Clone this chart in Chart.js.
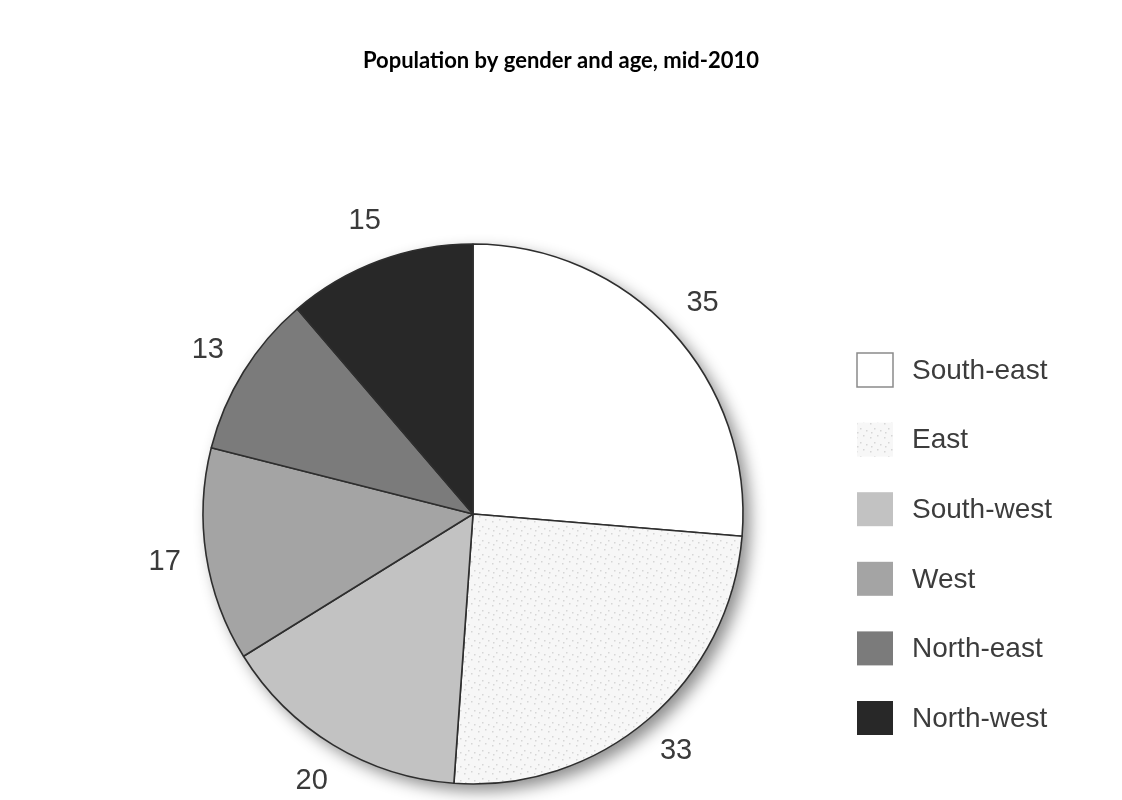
<!DOCTYPE html>
<html>
<head>
<meta charset="utf-8">
<script src="https://cdn.jsdelivr.net/npm/chart.js@4.4.1/dist/chart.umd.min.js"></script>
<style>
  html, body { margin: 0; padding: 0; background: #fff; }
  #wrap { width: 1122px; height: 800px; position: relative; }
</style>
</head>
<body>
<div id="wrap"><canvas id="regionChart"></canvas></div>
<script>
// data
const chartTitle = 'Population by gender and age, mid-2010';
const regions = ['South-east', 'East', 'South-west', 'West', 'North-east', 'North-west'];
const population = [35, 33, 20, 17, 13, 15];

// light dotted fill used for the East slice
function dotPattern() {
  const c = document.createElement('canvas');
  c.width = 14; c.height = 14;
  const g = c.getContext('2d');
  g.fillStyle = '#f7f7f7';
  g.fillRect(0, 0, 14, 14);
  g.fillStyle = '#d6d6d6';
  [[2, 3], [9, 1], [6, 8], [12, 10], [3, 12]].forEach(([x, y]) => g.fillRect(x, y, 1.5, 1.5));
  return g.createPattern(c, 'repeat');
}

const sliceColors = ['#ffffff', dotPattern(), '#c2c2c2', '#a4a4a4', '#7b7b7b', '#282828'];

// title sits centred on the whole page, not over the pie
const pageTitle = {
  id: 'pageTitle',
  afterDraw(chart) {
    const ctx = chart.ctx;
    ctx.save();
    ctx.font = 'bold 22px Lato, "Open Sans", sans-serif';
    ctx.fillStyle = '#000';
    ctx.textAlign = 'center';
    ctx.textBaseline = 'middle';
    ctx.fillText(chartTitle, chart.width / 2, 61);
    ctx.restore();
  }
};

// soft grey shadow round the lower right rim
const pieShadow = {
  id: 'pieShadow',
  beforeDatasetsDraw(chart) {
    const arc = chart.getDatasetMeta(0).data[0];
    if (!arc) return;
    const ctx = chart.ctx;
    ctx.save();
    ctx.shadowColor = 'rgba(0,0,0,0.45)';
    ctx.shadowBlur = 16;
    ctx.shadowOffsetX = 7;
    ctx.shadowOffsetY = 7;
    ctx.fillStyle = '#ffffff';
    ctx.beginPath();
    ctx.arc(arc.x, arc.y, arc.outerRadius, 0, Math.PI * 2);
    ctx.fill();
    ctx.restore();
  }
};

// numbers outside each slice
const sliceValues = {
  id: 'sliceValues',
  afterDatasetsDraw(chart) {
    const ctx = chart.ctx;
    const meta = chart.getDatasetMeta(0);
    ctx.save();
    ctx.font = '29px "Liberation Sans", Arial, sans-serif';
    ctx.fillStyle = '#3a3a3a';
    ctx.textAlign = 'center';
    ctx.textBaseline = 'middle';
    meta.data.forEach((arc, i) => {
      const mid = (arc.startAngle + arc.endAngle) / 2;
      const r = arc.outerRadius + 42;
      ctx.fillText(String(chart.data.datasets[0].data[i]), arc.x + Math.cos(mid) * r, arc.y + Math.sin(mid) * r);
    });
    ctx.restore();
  }
};

// legend column on the right
const sideLegend = {
  id: 'sideLegend',
  afterDraw(chart) {
    const ctx = chart.ctx;
    const ds = chart.data.datasets[0];
    ctx.save();
    ctx.font = '28px "Liberation Sans", Arial, sans-serif';
    ctx.textBaseline = 'middle';
    chart.data.labels.forEach((lab, i) => {
      const y = 370 + i * 69.6;
      ctx.fillStyle = ds.backgroundColor[i];
      ctx.fillRect(857, y - 17, 36, 34);
      if (i === 0) {
        ctx.strokeStyle = '#8a8a8a';
        ctx.lineWidth = 1.5;
        ctx.strokeRect(857, y - 17, 36, 34);
      }
      ctx.fillStyle = '#3c3c3c';
      ctx.fillText(lab, 912, y + 1);
    });
    ctx.restore();
  }
};

new Chart(document.getElementById('regionChart'), {
  type: 'pie',
  data: {
    labels: regions,
    datasets: [{
      data: population,
      backgroundColor: sliceColors,
      borderColor: '#2e2e2e',
      borderWidth: 1.6,
      radius: 270
    }]
  },
  options: {
    responsive: true,
    maintainAspectRatio: false,
    animation: false,
    layout: { padding: { left: 203, right: 379, top: 244, bottom: 16 } },
    plugins: {
      legend: { display: false },
      tooltip: { enabled: false },
      title: { display: false }
    }
  },
  plugins: [pieShadow, sliceValues, sideLegend, pageTitle]
});
</script>
</body>
</html>
